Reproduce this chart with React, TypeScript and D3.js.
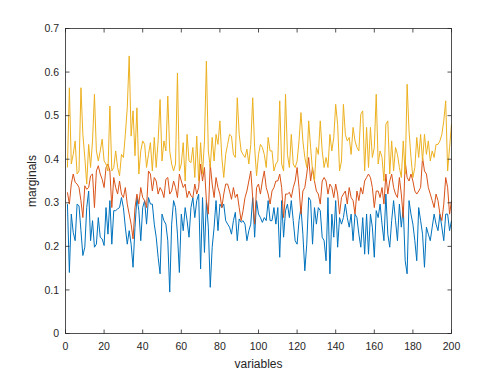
import * as d3 from "d3";

const W = 498;
const H = 374;
const M = { left: 65.5, right: 451.5, top: 28.5, bottom: 333.5 };

const xTicks = [0, 20, 40, 60, 80, 100, 120, 140, 160, 180, 200];
const yTicks = [0, 0.1, 0.2, 0.3, 0.4, 0.5, 0.6, 0.7];

// series 1 (blue)
const blueVals = [
  0.297, 0.14, 0.274, 0.232, 0.213, 0.297, 0.293, 0.236, 0.179, 0.198, 0.289, 0.327, 0.213, 0.259, 0.198, 0.205,
  0.266, 0.221, 0.217, 0.202, 0.289, 0.228, 0.305, 0.205, 0.282, 0.282, 0.286, 0.289, 0.312, 0.289, 0.244, 0.205,
  0.236, 0.205, 0.152, 0.244, 0.312, 0.282, 0.213, 0.289, 0.305, 0.251, 0.312, 0.297, 0.297, 0.251, 0.221, 0.175,
  0.137, 0.274, 0.259, 0.251, 0.213, 0.095, 0.251, 0.305, 0.289, 0.228, 0.14, 0.274, 0.236, 0.289, 0.259, 0.221,
  0.289, 0.312, 0.266, 0.305, 0.32, 0.148, 0.312, 0.186, 0.305, 0.244, 0.106, 0.198, 0.244, 0.305, 0.236, 0.297,
  0.289, 0.297, 0.259, 0.251, 0.244, 0.228, 0.259, 0.278, 0.213, 0.263, 0.255, 0.259, 0.251, 0.213, 0.236, 0.251,
  0.312, 0.221, 0.305, 0.274, 0.266, 0.255,
  0.266, 0.259, 0.305, 0.259, 0.259, 0.289, 0.251, 0.289, 0.175, 0.305, 0.221, 0.282, 0.297, 0.266, 0.305, 0.259,
  0.213, 0.205, 0.259, 0.289, 0.228, 0.144, 0.205, 0.312, 0.305, 0.205, 0.289, 0.251, 0.289, 0.282, 0.221, 0.213,
  0.167, 0.312, 0.137, 0.274, 0.221, 0.305, 0.198, 0.266, 0.251, 0.266, 0.297, 0.266, 0.244, 0.274, 0.213, 0.274,
  0.266, 0.228, 0.198, 0.266, 0.182, 0.274, 0.182, 0.274, 0.244, 0.175, 0.282, 0.266, 0.297, 0.251, 0.213, 0.32,
  0.228, 0.198, 0.259, 0.305, 0.259, 0.213, 0.297, 0.244, 0.289, 0.167, 0.137, 0.305, 0.274, 0.251, 0.213, 0.167,
  0.289, 0.259, 0.228, 0.152, 0.244, 0.228, 0.213, 0.244, 0.274, 0.251, 0.236, 0.274, 0.244, 0.213, 0.274, 0.274,
  0.236, 0.259,
];

// series 2 (orange)
const redVals = [
  0.324, 0.297, 0.343, 0.366, 0.347, 0.343, 0.335, 0.305, 0.266, 0.339, 0.331, 0.335, 0.362, 0.366, 0.289, 0.373,
  0.385, 0.366, 0.354, 0.335, 0.381, 0.389, 0.373, 0.289, 0.358, 0.335, 0.32, 0.35, 0.32, 0.312, 0.335, 0.297,
  0.274, 0.251, 0.217, 0.289, 0.32, 0.297, 0.335, 0.312, 0.305, 0.289, 0.373, 0.366, 0.327, 0.358, 0.35, 0.32,
  0.335, 0.327, 0.312, 0.354, 0.358, 0.32, 0.327, 0.35, 0.335, 0.312, 0.366, 0.35, 0.335, 0.343, 0.312, 0.327,
  0.316, 0.312, 0.343, 0.32, 0.335, 0.389, 0.35, 0.381, 0.305, 0.274, 0.389, 0.343, 0.312, 0.358, 0.335, 0.32,
  0.289, 0.32, 0.343, 0.343, 0.327, 0.308, 0.335, 0.312, 0.32, 0.289, 0.259, 0.282, 0.312, 0.327, 0.35, 0.373,
  0.312, 0.251, 0.335, 0.343, 0.32, 0.35,
  0.373, 0.335, 0.32, 0.297, 0.327, 0.335, 0.35, 0.35, 0.366, 0.335, 0.266, 0.32, 0.32, 0.324, 0.312, 0.335,
  0.35, 0.381, 0.335, 0.274, 0.327, 0.335, 0.366, 0.404, 0.35, 0.381, 0.35, 0.327, 0.32, 0.297, 0.35, 0.358,
  0.35, 0.32, 0.343, 0.335, 0.312, 0.343, 0.32, 0.274, 0.312, 0.32, 0.327, 0.297, 0.335, 0.312, 0.305, 0.274,
  0.327, 0.305, 0.335, 0.32, 0.35, 0.358, 0.366, 0.358, 0.335, 0.289, 0.327, 0.327, 0.312, 0.335, 0.297, 0.366,
  0.32, 0.35, 0.366, 0.335, 0.32, 0.312, 0.358, 0.32, 0.266, 0.396, 0.358, 0.35, 0.366, 0.35, 0.327, 0.32,
  0.327, 0.335, 0.404, 0.373, 0.366, 0.335, 0.32, 0.305, 0.289, 0.32, 0.305, 0.274, 0.259, 0.297, 0.358, 0.335,
  0.274, 0.305,
];

// series 3 (yellow)
const yellowVals = [
  0.381, 0.564, 0.389, 0.411, 0.442, 0.366, 0.373, 0.564, 0.457, 0.404, 0.343, 0.434, 0.381, 0.442, 0.549, 0.419,
  0.396, 0.419, 0.446, 0.396, 0.389, 0.373, 0.522, 0.373, 0.381, 0.419, 0.381, 0.362, 0.411, 0.404, 0.457, 0.518,
  0.637, 0.453, 0.511, 0.408, 0.518, 0.366, 0.419, 0.442, 0.434, 0.381, 0.411, 0.438, 0.373, 0.45, 0.381, 0.442,
  0.537, 0.396, 0.442, 0.419, 0.545, 0.419, 0.389, 0.373, 0.389, 0.598, 0.373, 0.389, 0.438, 0.35, 0.457, 0.396,
  0.392, 0.427, 0.358, 0.453, 0.35, 0.438, 0.366, 0.442, 0.625, 0.419, 0.381, 0.45, 0.396, 0.457, 0.434, 0.488,
  0.404, 0.358, 0.411, 0.434, 0.457, 0.453, 0.411, 0.404, 0.541, 0.457, 0.419, 0.411, 0.404, 0.423, 0.389, 0.434,
  0.541, 0.427, 0.362, 0.411, 0.434, 0.427,
  0.411, 0.381, 0.45, 0.419, 0.419, 0.373, 0.389, 0.396, 0.534, 0.389, 0.373, 0.549, 0.411, 0.381, 0.457, 0.389,
  0.381, 0.396, 0.442, 0.507, 0.442, 0.404, 0.381, 0.488, 0.427, 0.373, 0.35, 0.427, 0.411, 0.488, 0.419, 0.381,
  0.404, 0.381, 0.457, 0.419, 0.45, 0.526, 0.48, 0.373, 0.396, 0.526, 0.457, 0.442, 0.45, 0.411, 0.473, 0.442,
  0.427, 0.419, 0.503, 0.511, 0.373, 0.473, 0.381, 0.473, 0.404, 0.427, 0.549, 0.389, 0.419, 0.404, 0.35, 0.48,
  0.488, 0.366, 0.442, 0.373, 0.427, 0.411, 0.381, 0.358, 0.442, 0.366, 0.572, 0.465, 0.404, 0.358, 0.381, 0.45,
  0.404, 0.457, 0.396, 0.457, 0.411, 0.442, 0.396, 0.419, 0.404, 0.434, 0.434, 0.442, 0.457, 0.488, 0.534, 0.373,
  0.427, 0.48,
];

const series = [
  { name: "s1", values: blueVals, color: "#0072BD" },
  { name: "s2", values: redVals, color: "#D95319" },
  { name: "s3", values: yellowVals, color: "#EDB120" },
];

const FONT = "'Liberation Sans', Arial, Helvetica, sans-serif";
const AX = "#262626";
const TICK = 4;

export default function App() {
  const x = d3.scaleLinear().domain([0, 200]).range([M.left, M.right]);
  const y = d3.scaleLinear().domain([0, 0.7]).range([M.bottom, M.top]);

  const line = d3
    .line<number>()
    .x((_, i) => x(i + 1))
    .y((d) => y(d));

  return (
    <svg
      width={W}
      height={H}
      style={{ position: "absolute", left: 0, top: 0, background: "#fff" }}
      fontFamily={FONT}
    >
      <rect x={0} y={0} width={W} height={H} fill="#fff" />

      {series.map((s) => (
        <path
          key={s.name}
          d={line(s.values) ?? ""}
          fill="none"
          stroke={s.color}
          strokeWidth={1}
          strokeLinejoin="round"
        />
      ))}

      {/* box */}
      <rect
        x={M.left}
        y={M.top}
        width={M.right - M.left}
        height={M.bottom - M.top}
        fill="none"
        stroke={AX}
        strokeWidth={0.8}
      />

      {/* x ticks, bottom and top, pointing inward */}
      {xTicks.map((t) => (
        <g key={"x" + t}>
          <line x1={x(t)} x2={x(t)} y1={M.bottom} y2={M.bottom - TICK} stroke={AX} strokeWidth={0.8} />
          <line x1={x(t)} x2={x(t)} y1={M.top} y2={M.top + TICK} stroke={AX} strokeWidth={0.8} />
          <text x={x(t)} y={M.bottom + 16} textAnchor="middle" fontSize={10.5} fill={AX}>
            {t}
          </text>
        </g>
      ))}

      {/* y ticks, left and right */}
      {yTicks.map((t) => (
        <g key={"y" + t}>
          <line x1={M.left} x2={M.left + TICK} y1={y(t)} y2={y(t)} stroke={AX} strokeWidth={0.8} />
          <line x1={M.right} x2={M.right - TICK} y1={y(t)} y2={y(t)} stroke={AX} strokeWidth={0.8} />
          <text x={M.left - 6.5} y={y(t)} dy="0.35em" textAnchor="end" fontSize={10.5} fill={AX}>
            {t === 0 ? "0" : t.toFixed(1)}
          </text>
        </g>
      ))}

      <text x={(M.left + M.right) / 2} y={367.5} textAnchor="middle" fontSize={12} fill={AX}>
        variables
      </text>
      <text
        transform={`translate(35.5,${(M.top + M.bottom) / 2}) rotate(-90)`}
        textAnchor="middle"
        fontSize={12}
        fill={AX}
      >
        marginals
      </text>
    </svg>
  );
}
